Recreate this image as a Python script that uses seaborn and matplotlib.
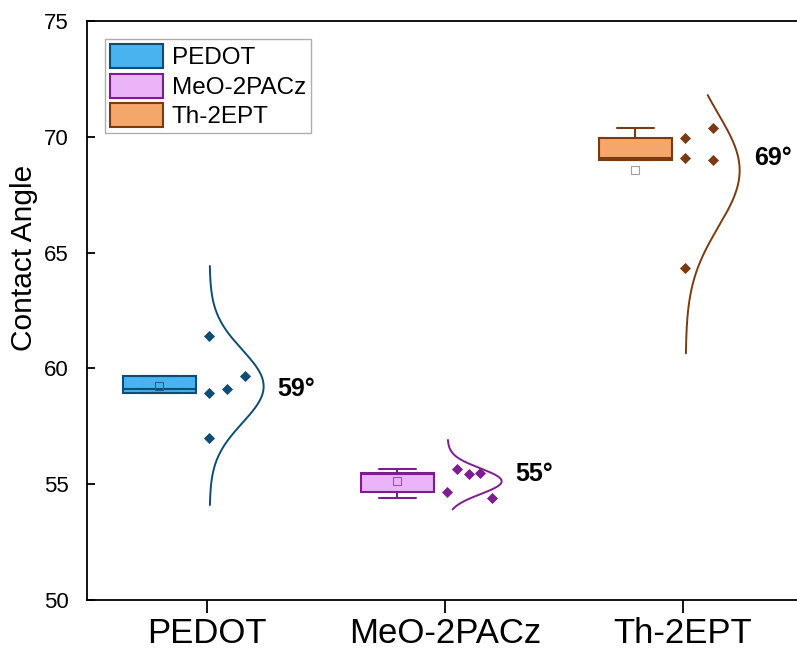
import numpy as np
import pandas as pd
import matplotlib
matplotlib.use("Agg")
import matplotlib.pyplot as plt
import seaborn as sns
from matplotlib.patches import Patch

# ---------------- data ----------------
groups = ["PEDOT", "MeO-2PACz", "Th-2EPT"]
pedot_vals = [61.39, 59.68, 58.95, 59.09, 57.00]
meo_vals = [54.66, 55.65, 55.44, 55.48, 54.40]
th_vals = [69.93, 69.09, 64.32, 70.40, 68.99]
angle_labels = ["59°", "55°", "69°"]
curve_lo = [54.10, 53.91, 60.65]
curve_hi = [64.42, 56.91, 71.80]
y_ticks = [50, 55, 60, 65, 70, 75]

# ---------------- style / layout ----------------
fills = ["#47B4F0", "#EBB3F8", "#F4A66B"]
edges = ["#0E4C74", "#7E1C93", "#7A3B12"]
mean_edges = ["#2a5f86", "#9b55ad", "#a0a0a0"]
point_offsets = [
    [0.008, 0.160, 0.008, 0.084, 0.008],
    [0.008, 0.050, 0.101, 0.147, 0.197],
    [0.008, 0.008, 0.008, 0.126, 0.126],
]
box_offset = -0.20
box_width = 0.307
curve_base = 0.011
curve_width = 0.227
label_offset = 0.297

sns.set_style("ticks")
plt.rcParams["font.family"] = ["Liberation Sans", "DejaVu Sans"]
plt.rcParams["text.color"] = "black"
plt.rcParams["axes.labelcolor"] = "black"
plt.rcParams["xtick.color"] = "black"
plt.rcParams["ytick.color"] = "black"

W, H = 797, 650
fig = plt.figure(figsize=(W / 100, H / 100), dpi=100)
ax_left, ax_right, ax_top, ax_bot = 87, 797, 21, 600
ax = fig.add_axes([ax_left / W, 1 - ax_bot / H, (ax_right - ax_left) / W, (ax_bot - ax_top) / H])

all_vals = [pedot_vals, meo_vals, th_vals]

for i, vals in enumerate(all_vals):
    vals = np.asarray(vals)
    # box
    sns.boxplot(
        x=[i + box_offset] * len(vals), y=vals, native_scale=True, orient="x",
        width=box_width, color=fills[i], linecolor=edges[i], saturation=1,
        linewidth=1.5, showfliers=False, showmeans=True, whis=1.5,
        meanprops=dict(marker="s", markerfacecolor="none",
                       markeredgecolor=mean_edges[i], markersize=5.2,
                       markeredgewidth=0.8),
        ax=ax,
    )
    # points
    sns.scatterplot(
        x=[i + o for o in point_offsets[i]], y=vals, marker="D", s=32,
        color=edges[i], linewidth=0, ax=ax, legend=False, zorder=4,
    )
    # distribution curve (normal curve from mean / sd)
    mu, sd = vals.mean(), vals.std(ddof=1)
    yy = np.linspace(curve_lo[i], curve_hi[i], 300)
    dens = np.exp(-0.5 * ((yy - mu) / sd) ** 2)
    xx = i + curve_base + curve_width * dens
    sns.lineplot(x=xx, y=yy, sort=False, estimator=None, color=edges[i],
                 linewidth=1.4, ax=ax)
    # label
    ax.text(i + label_offset, np.median(vals), angle_labels[i],
            ha="left", va="center", fontsize=18, fontweight="bold", color="black")

px_per_unit = 238.0
x0_px = 207.0
ax.set_xlim(-(x0_px - ax_left) / px_per_unit, (ax_right - x0_px) / px_per_unit)
ax.set_ylim(50, 75)
ax.set_xticks(range(len(groups)))
ax.set_xticklabels(groups, fontsize=25, color="black")
ax.set_yticks(y_ticks)
ax.set_yticklabels([str(t) for t in y_ticks], fontsize=16, color="black")
ax.set_xlabel("")
ax.set_ylabel("")

for s in ["left", "bottom", "top"]:
    ax.spines[s].set_visible(True)
    ax.spines[s].set_linewidth(1.3)
    ax.spines[s].set_color("black")
ax.spines["right"].set_visible(False)
ax.tick_params(axis="x", direction="out", length=9, width=1.3, pad=3, colors="black")
ax.tick_params(axis="y", direction="in", length=6, width=1.3, pad=13, colors="black")
ax.grid(False)

fig.text(24.5 / W, 1 - 258 / H, "Contact Angle", rotation=90, ha="center",
         va="center", fontsize=21.5, color="black")

handles = [Patch(facecolor=fills[i], edgecolor=edges[i], linewidth=1.5, label=g)
           for i, g in enumerate(groups)]
leg = ax.legend(handles=handles, loc="upper left",
                bbox_to_anchor=(105 / W, 1 - 39 / H), bbox_transform=fig.transFigure,
                borderaxespad=0, fontsize=17.5, handlelength=2.2, handleheight=1.15,
                labelspacing=0.18, handletextpad=0.35, borderpad=0.2,
                fancybox=False, frameon=True)
for t in leg.get_texts():
    t.set_color("black")
leg.get_frame().set_edgecolor("#9a9a9a")
leg.get_frame().set_linewidth(1.0)

fig.savefig("out.png", dpi=100)
